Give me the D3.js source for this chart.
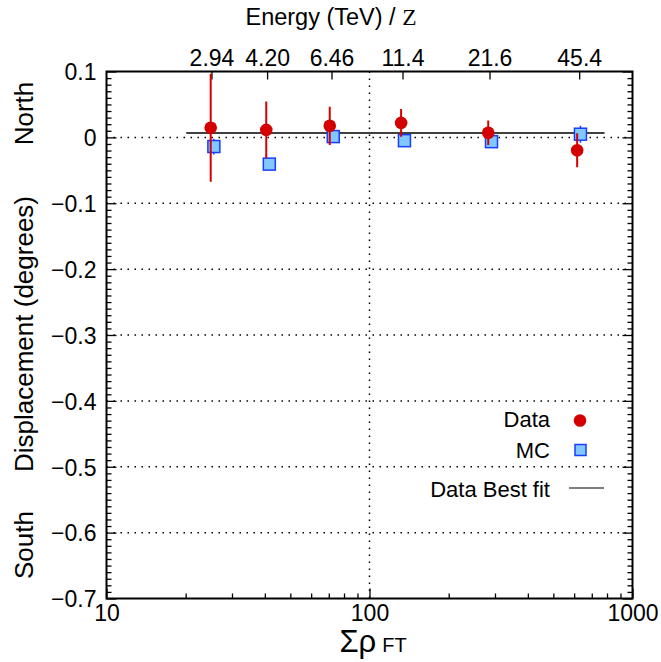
<!DOCTYPE html>
<html><head><meta charset="utf-8">
<script src="https://cdn.jsdelivr.net/npm/d3@7"></script>
<style>body{margin:0;background:#fff}svg{display:block}text{font-family:"Liberation Sans",Arial,sans-serif;fill:#000}</style>
</head><body><svg id="c" width="661" height="662"></svg>
<script>
// ---- data ----
const rhoData = [24.9, 40.5, 70.6, 131.9, 282.8, 616];
const yData   = [0.0147, 0.0114, 0.0176, 0.022, 0.007, -0.0196];
const errData = [0.082, 0.043, 0.029, 0.021, 0.0185, 0.0258];
const rhoMC   = [25.6, 41.6, 72.8, 135.8, 291, 634];
const yMC     = [-0.0139, -0.0406, 0.0012, -0.0050, -0.0065, 0.0048];
const errMC   = [0.012, 0.006, 0.006, 0.005, 0.005, 0.013];
const energyLabels = ["2.94", "4.20", "6.46", "11.4", "21.6", "45.4"];
const energyRho    = [25.07, 40.8, 71.7, 133.5, 286, 627];
const fitValue = 0.0067;
const fitRange = [20.1, 783];
const yMajorTicks = [0.1, 0, -0.1, -0.2, -0.3, -0.4, -0.5, -0.6, -0.7];
const xMajorTicks = [10, 100, 1000];
const legendLabels = ["Data", "MC", "Data Best fit"];

// ---- layout ----
const L = 106.5, R = 632.5, T = 71.5, B = 598.5;
const svg = d3.select("#c");
const x = d3.scaleLog().domain([10, 1000]).range([L, R]);
const y = d3.scaleLinear().domain([-0.7, 0.1]).range([B, T]);
const red = "#d40000", blueStroke = "#1a3cff", blueFill = "#80c8ff";
const fmtY = d => { const v = Math.round(d * 10) / 10; return v === 0 ? "0" : d3.format(".1f")(v); };

// grid
const grid = svg.append("g").attr("stroke", "#000").attr("stroke-width", 1.5).attr("stroke-dasharray", "1.5,5.5");
yMajorTicks.filter(v => v < 0.09 && v > -0.69).forEach(v => {
  grid.append("line").attr("x1", L).attr("x2", R).attr("y1", y(v)).attr("y2", y(v));
});
grid.append("line").attr("x1", x(100)).attr("x2", x(100)).attr("y1", T).attr("y2", B);

// minor ticks arrays
const yMinor = d3.range(-70, 11).map(i => i / 100).filter(v => Math.abs(Math.round(v * 10) - v * 10) > 1e-6);
const xMinor = [];
[10, 100].forEach(d => { for (let k = 2; k <= 9; k++) xMinor.push(d * k); });

function styleAxis(g) {
  g.selectAll("path.domain").remove();
  g.selectAll(".tick line").attr("stroke", "#000").attr("stroke-width", 1.3);
  g.selectAll("text").attr("font-size", 23).attr("font-family", "Liberation Sans, Arial, sans-serif");
}
// left
svg.append("g").attr("transform", `translate(${L},0)`)
  .call(d3.axisLeft(y).tickValues(yMajorTicks).tickFormat(fmtY).tickSizeInner(-10).tickSizeOuter(0).tickPadding(10)).call(styleAxis)
  .selectAll("text").attr("dy", "0.36em");
svg.append("g").attr("transform", `translate(${L},0)`)
  .call(d3.axisLeft(y).tickValues(yMinor).tickFormat("").tickSizeInner(-5).tickSizeOuter(0)).call(styleAxis);
// right
svg.append("g").attr("transform", `translate(${R},0)`)
  .call(d3.axisRight(y).tickValues(yMajorTicks).tickFormat("").tickSizeInner(-10).tickSizeOuter(0)).call(styleAxis);
svg.append("g").attr("transform", `translate(${R},0)`)
  .call(d3.axisRight(y).tickValues(yMinor).tickFormat("").tickSizeInner(-5).tickSizeOuter(0)).call(styleAxis);
// bottom
svg.append("g").attr("transform", `translate(0,${B})`)
  .call(d3.axisBottom(x).tickValues(xMajorTicks).tickFormat(d3.format("d")).tickSizeInner(-10).tickSizeOuter(0).tickPadding(6)).call(styleAxis)
  .selectAll("text").attr("dy", "0.71em");
svg.append("g").attr("transform", `translate(0,${B})`)
  .call(d3.axisBottom(x).tickValues(xMinor).tickFormat("").tickSizeInner(-5).tickSizeOuter(0)).call(styleAxis);
// top (energy)
svg.append("g").attr("transform", `translate(0,${T})`)
  .call(d3.axisTop(x).tickValues(energyRho).tickFormat((d, i) => energyLabels[i]).tickSizeInner(-8).tickSizeOuter(0).tickPadding(6)).call(styleAxis)
  .selectAll("text").attr("dy", "0em");

// frame
svg.append("rect").attr("x", L).attr("y", T).attr("width", R - L).attr("height", B - T)
  .attr("fill", "none").attr("stroke", "#000").attr("stroke-width", 2);

// fit line
svg.append("line").attr("x1", x(fitRange[0])).attr("x2", x(fitRange[1])).attr("y1", y(fitValue)).attr("y2", y(fitValue))
  .attr("stroke", "#000").attr("stroke-width", 1.5);

// clip
svg.append("clipPath").attr("id", "clip").append("rect").attr("x", L).attr("y", T).attr("width", R - L).attr("height", B - T);
const plot = svg.append("g").attr("clip-path", "url(#clip)");

// MC
const mc = rhoMC.map((r, i) => ({ r, v: yMC[i], e: errMC[i] }));
plot.selectAll(".mcerr").data(mc).join("line")
  .attr("x1", d => x(d.r)).attr("x2", d => x(d.r)).attr("y1", d => y(d.v + d.e)).attr("y2", d => y(d.v - d.e))
  .attr("stroke", blueStroke).attr("stroke-width", 1.5);
plot.selectAll(".mcpt").data(mc).join("rect")
  .attr("x", d => x(d.r) - 6).attr("y", d => y(d.v) - 6).attr("width", 12).attr("height", 12)
  .attr("fill", blueFill).attr("stroke", blueStroke).attr("stroke-width", 1.5);

// Data
const dat = rhoData.map((r, i) => ({ r, v: yData[i], e: errData[i] }));
plot.selectAll(".derr").data(dat).join("line")
  .attr("x1", d => x(d.r)).attr("x2", d => x(d.r)).attr("y1", d => y(d.v + d.e)).attr("y2", d => y(d.v - d.e))
  .attr("stroke", red).attr("stroke-width", 2);
plot.selectAll(".dpt").data(dat).join("circle")
  .attr("cx", d => x(d.r)).attr("cy", d => y(d.v)).attr("r", 6.3).attr("fill", red);

// titles
const topTitle = svg.append("text").attr("x", 331).attr("y", 25).attr("text-anchor", "middle").attr("font-size", 23.5);
topTitle.append("tspan").text("Energy (TeV) / ");
topTitle.append("tspan").attr("font-family", "Liberation Serif, serif").text("Z");

const xTitle = svg.append("text").attr("x", 373).attr("y", 652).attr("text-anchor", "middle");
xTitle.append("tspan").attr("font-size", 31).text("Σρ");
xTitle.append("tspan").attr("font-size", 20).attr("dx", 6).text("FT");

[["North", 113.5], ["Displacement (degrees)", 334], ["South", 545]].forEach(([t, cy]) => {
  svg.append("text").attr("transform", `translate(33,${cy}) rotate(-90)`).attr("text-anchor", "middle")
    .attr("font-size", 26).text(t);
});

// legend
const lg = svg.append("g").attr("font-size", 22);
lg.append("text").attr("x", 550).attr("y", 427).attr("text-anchor", "end").text(legendLabels[0]);
lg.append("circle").attr("cx", 580).attr("cy", 420.5).attr("r", 6.3).attr("fill", red);
lg.append("text").attr("x", 550).attr("y", 458).attr("text-anchor", "end").text(legendLabels[1]);
lg.append("rect").attr("x", 575).attr("y", 444.5).attr("width", 11).attr("height", 11)
  .attr("fill", blueFill).attr("stroke", blueStroke).attr("stroke-width", 1.5);
lg.append("text").attr("x", 550).attr("y", 497).attr("text-anchor", "end").text(legendLabels[2]);
lg.append("line").attr("x1", 569).attr("x2", 604).attr("y1", 488).attr("y2", 488).attr("stroke", "#555").attr("stroke-width", 1.5);
</script></body></html>
